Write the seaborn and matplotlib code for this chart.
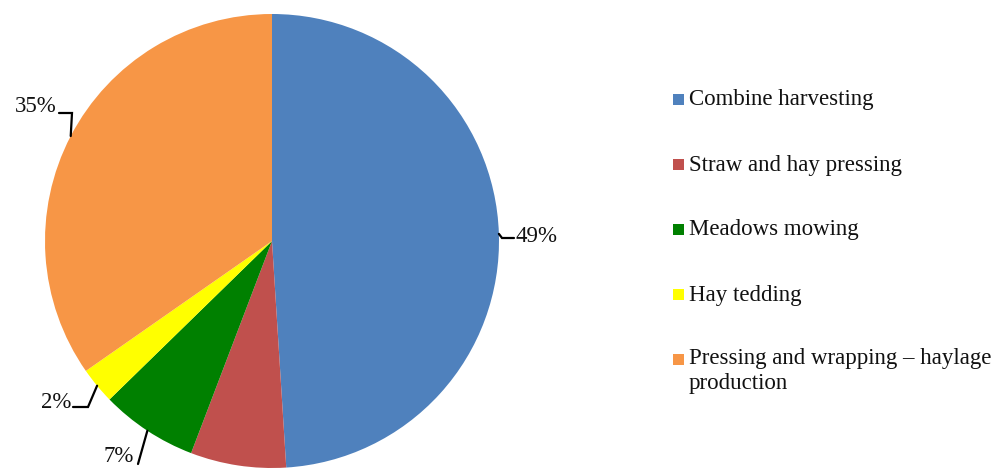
import numpy as np
import matplotlib.pyplot as plt
import seaborn as sns
from matplotlib.patches import Rectangle

# Shares of operations (percent)
operations = ['Combine harvesting', 'Straw and hay pressing', 'Meadows mowing',
              'Hay tedding', 'Pressing and wrapping \u2013 haylage\nproduction']
shares = [49.0, 6.8, 6.9, 2.6, 34.7]
pct_labels = ['49%', None, '7%', '2%', '35%']
colors = ['#4F81BD', '#C0504D', '#008000', '#FFFF00', '#F79646']

sns.set_theme(style="white")
plt.rcParams['font.family'] = ['Liberation Serif', 'DejaVu Serif']

W, H = 994, 468
fig = plt.figure(figsize=(W / 100, H / 100), dpi=100)
ax = fig.add_axes([0, 0, 1, 1])

cx, cy, r = 272, H - 241, 227
wedges, _ = ax.pie(shares, colors=colors, startangle=90, counterclock=False,
                   center=(cx, cy), radius=r, frame=True,
                   wedgeprops=dict(linewidth=0))
ax.set_xlim(0, W)
ax.set_ylim(0, H)
ax.set_aspect('equal')
ax.axis('off')

# label text positions (x, y in image px) and alignment, elbow points
label_layout = {
    0: dict(xy=(516, 237), ha='left', path=[(514, 238), (502, 238)]),
    2: dict(xy=(119, 457), ha='center', path=[(138, 464)]),
    3: dict(xy=(71, 403), ha='right', path=[(73, 407), (88, 407)]),
    4: dict(xy=(57, 106), ha='right', path=[(59, 113), (72, 113)]),
}
for i, w in enumerate(wedges):
    if pct_labels[i] is None:
        continue
    mid = np.deg2rad((w.theta1 + w.theta2) / 2)
    rim = (cx + r * np.cos(mid), cy + r * np.sin(mid))
    lay = label_layout[i]
    pts = [(x, H - y) for x, y in lay['path']] + [rim]
    ax.plot([p[0] for p in pts], [p[1] for p in pts], color='black', lw=1.6,
            solid_joinstyle='miter')
    ax.text(lay['xy'][0], H - lay['xy'][1], pct_labels[i], ha=lay['ha'],
            va='center', fontsize=16.5, color='#111111')

# legend
row_y = [100, 165, 230, 295, 360]
for y, lab, c in zip(row_y, operations, colors):
    ax.add_patch(Rectangle((673, H - y - 5), 11, 11, color=c, lw=0))
    if '\n' in lab:
        ax.text(689, H - y + 12, lab, ha='left', va='top',
                fontsize=16.5, color='#111111', linespacing=1.25)
    else:
        ax.text(689, H - y, lab, ha='left', va='center',
                fontsize=16.5, color='#111111')

fig.savefig('out.png', dpi=100)
